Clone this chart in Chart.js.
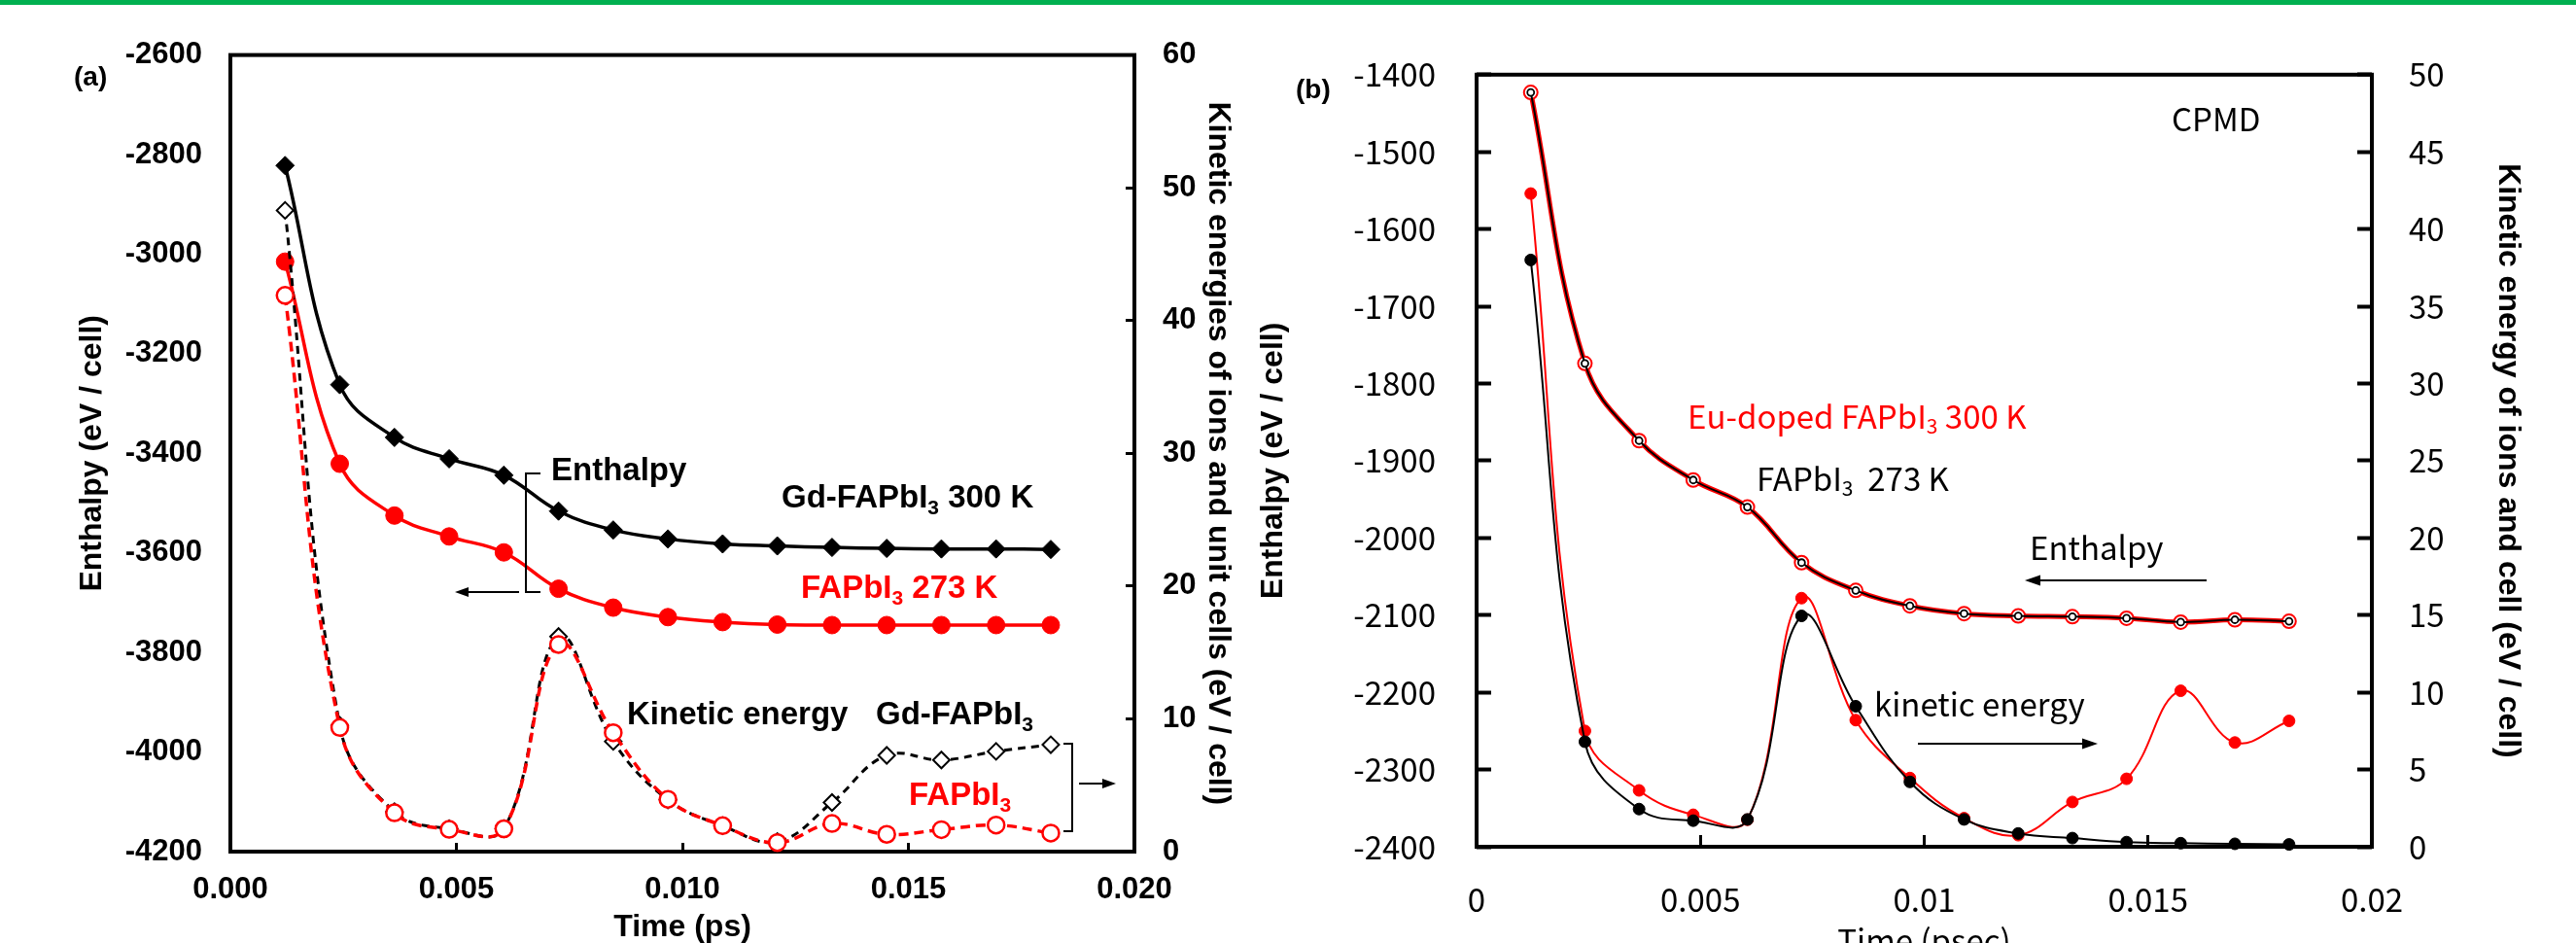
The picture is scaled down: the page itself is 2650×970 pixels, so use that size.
<!DOCTYPE html>
<html>
<head>
<meta charset="utf-8">
<script src="https://cdn.jsdelivr.net/npm/chart.js@4"></script>
<style>
  html, body { margin: 0; padding: 0; background: #fff; }
  body { width: 2650px; height: 970px; position: relative; overflow: hidden; }
  #bar { position: absolute; left: 0; top: 0; width: 2650px; height: 5px; background: #00b050; }
  #wa { position: absolute; left: 0; top: 0; width: 1280px; height: 970px; }
  #wb { position: absolute; left: 1280px; top: 0; width: 1370px; height: 970px; }
</style>
</head>
<body>
<div id="wa"><canvas id="ca"></canvas></div>
<div id="wb"><canvas id="cb"></canvas></div>
<div id="bar"></div>
<script>
// time axis (ps), same sampling in both panels
const timePs = [0.00121, 0.00242, 0.00363, 0.00484, 0.00605, 0.00726, 0.00847, 0.00968,
                0.01089, 0.0121, 0.01331, 0.01452, 0.01573, 0.01694, 0.01815];

// panel (a): enthalpy (eV/cell) and kinetic energy (eV/cell)
const gdEnthalpy    = [-2822, -3262, -3368, -3411, -3444, -3516, -3554, -3572, -3582, -3586, -3589, -3591, -3592, -3592, -3593];
const fapbEnthalpyA = [-3015, -3421, -3525, -3567, -3599, -3672, -3710, -3729, -3739, -3744, -3745, -3745, -3745, -3745, -3745];
const gdKinetic     = [48.3, 9.5, 3.0, 1.72, 1.72, 16.2, 8.3, 3.9, 1.95, 0.75, 3.7, 7.25, 6.9, 7.55, 8.05];
const fapbKineticA  = [41.9, 9.35, 2.92, 1.68, 1.72, 15.6, 8.96, 3.94, 1.95, 0.68, 2.12, 1.3, 1.65, 2.0, 1.4];

// panel (b): CPMD
const euEnthalpy    = [-1423, -1774, -1874, -1925, -1960, -2032, -2068, -2088, -2098, -2101, -2102, -2104, -2109, -2106, -2108];
const fapbEnthalpyB = [-1423, -1774, -1874, -1925, -1960, -2032, -2068, -2088, -2098, -2101, -2102, -2104, -2109, -2106, -2108];
const euKinetic     = [42.3, 7.5, 3.65, 2.07, 1.75, 16.1, 8.2, 4.45, 1.85, 0.75, 2.9, 4.4, 10.1, 6.75, 8.15];
const fapbKineticB  = [38.0, 6.8, 2.44, 1.69, 1.77, 14.95, 9.1, 4.2, 1.77, 0.86, 0.56, 0.3, 0.23, 0.19, 0.15];

// axis tick settings
const xTicks = { min: 0, max: 0.02, step: 0.005 };
const enthalpyTicksA = { min: -4200, max: -2600, step: 200 };
const kineticTicksA = { min: 0, max: 60, step: 10 };
const enthalpyTicksB = { min: -2400, max: -1400, step: 100 };
const kineticTicksB = { min: 0, max: 50, step: 5 };

const ARIAL = "'Liberation Sans', Arial, sans-serif";
const JP = "'Noto Sans CJK JP', sans-serif";
const RED = '#ff0000';

const pts = (ys) => timePs.map((t, i) => ({ x: t, y: ys[i] }));

function richText(ctx, x, y, parts, size, weight, family, color) {
  ctx.save();
  ctx.fillStyle = color;
  ctx.textBaseline = 'middle';
  ctx.textAlign = 'left';
  let cx = x;
  for (const [txt, sub] of parts) {
    const fs = sub ? Math.round(size * 0.65) : size;
    ctx.font = weight + ' ' + fs + 'px ' + family;
    ctx.fillText(txt, cx, sub ? y + size * 0.3 : y);
    cx += ctx.measureText(txt).width;
  }
  ctx.restore();
}

function hArrow(ctx, x1, y, x2, lw, hl, hw) {
  const dir = x2 > x1 ? 1 : -1;
  ctx.save();
  ctx.strokeStyle = '#000';
  ctx.fillStyle = '#000';
  ctx.lineWidth = lw;
  ctx.beginPath();
  ctx.moveTo(x1, y);
  ctx.lineTo(x2 - dir * hl, y);
  ctx.stroke();
  ctx.beginPath();
  ctx.moveTo(x2, y);
  ctx.lineTo(x2 - dir * hl, y - hw / 2);
  ctx.lineTo(x2 - dir * hl, y + hw / 2);
  ctx.closePath();
  ctx.fill();
  ctx.restore();
}

function polyline(ctx, p, lw) {
  ctx.save();
  ctx.strokeStyle = '#000';
  ctx.lineWidth = lw;
  ctx.beginPath();
  ctx.moveTo(p[0][0], p[0][1]);
  for (let i = 1; i < p.length; i++) ctx.lineTo(p[i][0], p[i][1]);
  ctx.stroke();
  ctx.restore();
}

const boxPlugin = {
  id: 'box',
  beforeDatasetsDraw(chart) {
    const { left, top, right, bottom } = chart.chartArea;
    const ctx = chart.ctx;
    ctx.save();
    ctx.lineWidth = 4;
    ctx.strokeStyle = '#000';
    ctx.strokeRect(left, top, right - left, bottom - top);
    ctx.restore();
  }
};

const notesA = {
  id: 'notesA',
  afterDraw(chart) {
    const ctx = chart.ctx;
    richText(ctx, 76, 80, [['(a)', 0]], 28, 'bold', ARIAL, '#000');
    richText(ctx, 567, 485, [['Enthalpy', 0]], 33, 'bold', ARIAL, '#000');
    richText(ctx, 804, 513, [['Gd-FAPbI', 0], ['3', 1], [' 300 K', 0]], 33, 'bold', ARIAL, '#000');
    richText(ctx, 824, 606, [['FAPbI', 0], ['3', 1], [' 273 K', 0]], 33, 'bold', ARIAL, RED);
    richText(ctx, 645, 736, [['Kinetic energy', 0]], 33, 'bold', ARIAL, '#000');
    richText(ctx, 901, 736, [['Gd-FAPbI', 0], ['3', 1]], 33, 'bold', ARIAL, '#000');
    richText(ctx, 935, 819, [['FAPbI', 0], ['3', 1]], 33, 'bold', ARIAL, RED);
    polyline(ctx, [[556, 487], [541, 487], [541, 609], [556, 609]], 2);
    hArrow(ctx, 534, 609, 468, 2, 14, 10);
    polyline(ctx, [[1094, 765], [1103, 765], [1103, 855], [1094, 855]], 2);
    hArrow(ctx, 1110, 806, 1148, 2, 14, 10);
  }
};

const notesB = {
  id: 'notesB',
  afterDraw(chart) {
    const ctx = chart.ctx;
    richText(ctx, 53, 93, [['(b)', 0]], 28, 'bold', ARIAL, '#000');
    richText(ctx, 954, 122, [['CPMD', 0]], 33, 'normal', JP, '#000');
    richText(ctx, 456, 428, [['Eu-doped FAPbI', 0], ['3', 1], [' 300 K', 0]], 33, 'normal', JP, RED);
    richText(ctx, 527, 492, [['FAPbI', 0], ['3', 1], ['  273 K', 0]], 33, 'normal', JP, '#000');
    richText(ctx, 808, 563, [['Enthalpy', 0]], 33, 'normal', JP, '#000');
    hArrow(ctx, 990, 597, 803, 2, 16, 11);
    richText(ctx, 648, 724, [['kinetic energy', 0]], 33, 'normal', JP, '#000');
    hArrow(ctx, 693, 765, 878, 2, 16, 11);
  }
};

const tickGrid = (len, w) => ({ drawOnChartArea: false, tickLength: len, tickWidth: w, tickColor: '#000' });

new Chart(document.getElementById('ca'), {
  type: 'line',
  data: {
    datasets: [
      { data: pts(fapbKineticA), yAxisID: 'yk', borderColor: RED, borderWidth: 3.5, borderDash: [10, 6],
        pointRadius: 8.5, pointBackgroundColor: '#fff', pointBorderColor: RED, pointBorderWidth: 2.5,
        tension: 0.4, clip: false },
      { data: pts(gdKinetic), yAxisID: 'yk', borderColor: '#000', borderWidth: 3, borderDash: [8, 6],
        pointStyle: 'rectRot', pointRadius: 8.5, pointBackgroundColor: '#fff', pointBorderColor: '#000',
        pointBorderWidth: 2, tension: 0.4, clip: false },
      { data: pts(fapbEnthalpyA), yAxisID: 'yh', borderColor: RED, borderWidth: 3.5,
        pointRadius: 9, pointBackgroundColor: RED, pointBorderColor: RED, pointBorderWidth: 1,
        tension: 0.4, clip: false },
      { data: pts(gdEnthalpy), yAxisID: 'yh', borderColor: '#000', borderWidth: 3.5,
        pointStyle: 'rectRot', pointRadius: 9.5, pointBackgroundColor: '#000', pointBorderColor: '#000',
        pointBorderWidth: 1, tension: 0.4, clip: false }
    ]
  },
  options: {
    responsive: true,
    maintainAspectRatio: false,
    animation: false,
    devicePixelRatio: 1,
    events: [],
    layout: { padding: { top: 48, left: 0, right: 0, bottom: 0 } },
    plugins: { legend: { display: false }, tooltip: { enabled: false } },
    scales: {
      x: {
        type: 'linear', min: xTicks.min, max: xTicks.max,
        ticks: { stepSize: xTicks.step, callback: v => v.toFixed(3), color: '#000', padding: 30,
                 maxRotation: 0, autoSkip: false, font: { family: ARIAL, size: 31, weight: 'bold' } },
        grid: tickGrid(-9, 3),
        border: { display: false },
        title: { display: true, text: 'Time (ps)', color: '#000', padding: { top: 0, bottom: 0 },
                 font: { family: ARIAL, size: 32, weight: 'bold', lineHeight: 1 } },
        afterFit: s => { s.height = 94; }
      },
      yh: {
        position: 'left', min: enthalpyTicksA.min, max: enthalpyTicksA.max,
        ticks: { stepSize: enthalpyTicksA.step, callback: v => String(v), color: '#000', padding: 29,
                 font: { family: ARIAL, size: 31, weight: 'bold' } },
        grid: { display: false, drawTicks: false },
        border: { display: false },
        title: { display: true, text: 'Enthalpy (eV / cell)', color: '#000', padding: { top: 79 },
                 font: { family: ARIAL, size: 32, weight: 'bold', lineHeight: 1 } },
        afterFit: s => { s.width = 237; }
      },
      yk: {
        position: 'right', min: kineticTicksA.min, max: kineticTicksA.max,
        ticks: { stepSize: kineticTicksA.step, color: '#000', padding: 38,
                 font: { family: ARIAL, size: 31, weight: 'bold' } },
        grid: tickGrid(-9, 3),
        border: { display: false },
        title: { display: true, text: 'Kinetic energies of ions and unit cells (eV / cell)', color: '#000',
                 padding: { top: 11 }, font: { family: ARIAL, size: 32, weight: 'bold', lineHeight: 1 } },
        afterFit: s => { s.width = 113; }
      }
    }
  },
  plugins: [boxPlugin, notesA]
});

new Chart(document.getElementById('cb'), {
  type: 'line',
  data: {
    datasets: [
      { data: pts(fapbKineticB), yAxisID: 'yk', borderColor: '#000', borderWidth: 2,
        pointRadius: 6, pointBackgroundColor: '#000', pointBorderColor: '#000', pointBorderWidth: 1,
        tension: 0.4, clip: false },
      { data: pts(euKinetic), yAxisID: 'yk', borderColor: RED, borderWidth: 2,
        pointRadius: 6, pointBackgroundColor: RED, pointBorderColor: RED, pointBorderWidth: 1,
        tension: 0.4, clip: false },
      { data: pts(fapbEnthalpyB), yAxisID: 'yh', borderColor: '#000', borderWidth: 2,
        pointRadius: 3.5, pointBackgroundColor: '#fff', pointBorderColor: '#000', pointBorderWidth: 1.8,
        tension: 0.4, clip: false },
      { data: pts(euEnthalpy), yAxisID: 'yh', borderColor: RED, borderWidth: 5,
        pointRadius: 7, pointBackgroundColor: '#fff', pointBorderColor: RED, pointBorderWidth: 2,
        tension: 0.4, clip: false }
    ]
  },
  options: {
    responsive: true,
    maintainAspectRatio: false,
    animation: false,
    devicePixelRatio: 1,
    events: [],
    layout: { padding: { top: 51, left: 0, right: 0, bottom: 0 } },
    plugins: { legend: { display: false }, tooltip: { enabled: false } },
    scales: {
      x: {
        type: 'linear', min: xTicks.min, max: xTicks.max,
        ticks: { stepSize: xTicks.step, callback: v => String(parseFloat(v.toFixed(3))), color: '#000',
                 padding: 47, maxRotation: 0, autoSkip: false, font: { family: JP, size: 33 } },
        grid: tickGrid(-12, 3),
        border: { display: false },
        title: { display: true, text: 'Time (psec)', color: '#000', padding: { top: 0, bottom: -14 },
                 font: { family: JP, size: 33, lineHeight: 1 } },
        afterFit: s => { s.height = 99; }
      },
      yh: {
        position: 'left', min: enthalpyTicksB.min, max: enthalpyTicksB.max,
        ticks: { stepSize: enthalpyTicksB.step, callback: v => String(v), color: '#000', padding: 57,
                 font: { family: JP, size: 33 } },
        grid: tickGrid(-15, 4),
        border: { display: false },
        title: { display: true, text: 'Enthalpy (eV / cell)', color: '#000', padding: { top: 14 },
                 font: { family: ARIAL, size: 32, weight: 'bold', lineHeight: 1 } },
        afterFit: s => { s.width = 239; }
      },
      yk: {
        position: 'right', min: kineticTicksB.min, max: kineticTicksB.max,
        ticks: { stepSize: kineticTicksB.step, color: '#000', padding: 53,
                 font: { family: JP, size: 33 } },
        grid: tickGrid(-15, 4),
        border: { display: false },
        title: { display: true, text: 'Kinetic energy of ions and cell (eV / cell)', color: '#000',
                 padding: { top: 54 }, font: { family: ARIAL, size: 32, weight: 'bold', lineHeight: 1 } },
        afterFit: s => { s.width = 210; }
      }
    }
  },
  plugins: [boxPlugin, notesB]
});
</script>
</body>
</html>
